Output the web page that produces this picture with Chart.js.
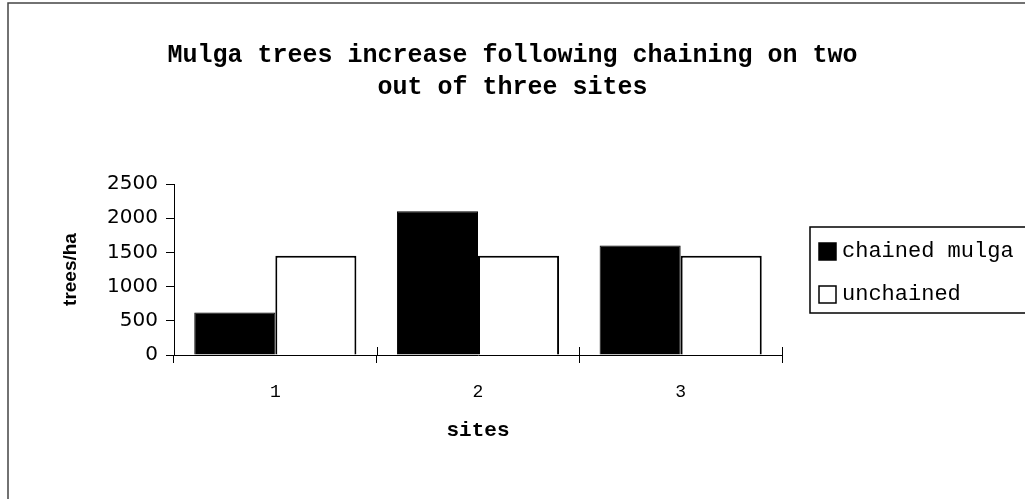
<!DOCTYPE html>
<html>
<head>
<meta charset="utf-8">
<script src="https://cdn.jsdelivr.net/npm/chart.js@4.4.0/dist/chart.umd.min.js"></script>
<style>
  html, body { margin: 0; padding: 0; background: #fff; }
  #wrap { width: 1025px; height: 499px; }
</style>
</head>
<body>
<div id="wrap"><canvas id="chart" width="1025" height="499"></canvas></div>
<script>
// ── Data ──────────────────────────────────────────────────
const SITES     = ['1', '2', '3'];
const CHAINED   = [620, 2100, 1600];
const UNCHAINED = [1450, 1450, 1450];
const SERIES    = ['chained mulga', 'unchained'];
const TITLE     = ['Mulga trees increase following chaining on two', 'out of three sites'];
const Y_TICKS   = [0, 500, 1000, 1500, 2000, 2500];

const MONO = "'Liberation Mono', 'Courier New', monospace";

// ── Frame, legend and the upper half of the x ticks ───────
const decor = {
  id: 'decor',
  beforeDraw(chart) {
    const c = chart.ctx;
    c.save();
    c.fillStyle = '#fff';
    c.fillRect(0, 0, chart.width, chart.height);
    c.strokeStyle = '#444';
    c.lineWidth = 1.5;
    c.beginPath();
    c.moveTo(8, chart.height);
    c.lineTo(8, 3);
    c.lineTo(chart.width + 2, 3);
    c.stroke();
    c.restore();
  },
  afterDraw(chart) {
    const c = chart.ctx;
    const xs = chart.scales.x;
    const bottom = chart.chartArea.bottom;
    const step = (xs.right - xs.left) / SITES.length;
    c.save();
    c.strokeStyle = '#000';
    c.lineWidth = 1;
    for (let i = 0; i <= SITES.length; i++) {
      const x = Math.round(xs.left + i * step) + 0.5;
      c.beginPath();
      c.moveTo(x, bottom - 8);
      c.lineTo(x, bottom);
      c.stroke();
    }

    // legend
    c.strokeStyle = '#000';
    c.lineWidth = 1.5;
    c.strokeRect(810, 227, 230, 86);
    c.font = '22px ' + MONO;
    c.textBaseline = 'middle';
    chart.data.datasets.forEach((ds, i) => {
      const y = 251 + i * 43;
      c.fillStyle = ds.backgroundColor;
      c.fillRect(819, y - 8, 17, 17);
      c.lineWidth = 1.5;
      c.strokeRect(819, y - 8, 17, 17);
      c.fillStyle = '#000';
      c.fillText(ds.label, 842, y);
    });
    c.restore();
  },
};

new Chart(document.getElementById('chart'), {
  type: 'bar',
  data: {
    labels: SITES,
    datasets: [
      { label: SERIES[0], data: CHAINED,   backgroundColor: '#000', borderColor: '#000', borderWidth: 1 },
      { label: SERIES[1], data: UNCHAINED, backgroundColor: '#fff', borderColor: '#000', borderWidth: 2 },
    ],
  },
  options: {
    responsive: false,
    animation: false,
    devicePixelRatio: 1,
    layout: { padding: 0 },
    datasets: { bar: { categoryPercentage: 0.8, barPercentage: 1.0 } },
    plugins: {
      legend: { display: false },
      tooltip: { enabled: false },
      title: {
        display: true,
        text: TITLE,
        color: '#000',
        font: { family: MONO, weight: 'bold', size: 25, lineHeight: 1.3 },
        padding: { top: 39, bottom: 80 },
      },
    },
    scales: {
      x: {
        grid: { drawOnChartArea: false, tickLength: 8, color: '#000', offset: true },
        border: { color: '#000', width: 1 },
        ticks: { color: '#000', font: { family: MONO, size: 18 }, padding: 18 },
        title: {
          display: true, text: 'sites', color: '#000',
          font: { family: MONO, weight: 'bold', size: 21 },
          padding: { top: 4, bottom: 56 },
        },
        afterFit(scale) { scale.height = 144; },
      },
      y: {
        min: 0, max: 2500,
        afterBuildTicks(scale) { scale.ticks = Y_TICKS.map(v => ({ value: v })); },
        grid: { drawOnChartArea: false, tickLength: 8, color: '#000' },
        border: { color: '#000', width: 1 },
        ticks: {
          color: '#000', padding: 8,
          font: { family: "'DejaVu Sans', sans-serif", size: 20 },
          callback: v => String(v),
        },
        title: {
          display: true, text: 'trees/ha', color: '#000',
          font: { family: "'Liberation Sans', Arial, sans-serif", weight: 'bold', size: 19 },
          padding: { top: 59, bottom: 4 },
        },
        afterFit(scale) { scale.width = 174; },
      },
      // empty right-hand space that holds the legend
      side: {
        position: 'right',
        grid: { display: false },
        border: { display: false },
        ticks: { display: false },
        afterFit(scale) { scale.width = 243; },
      },
    },
  },
  plugins: [decor],
});
</script>
</body>
</html>
